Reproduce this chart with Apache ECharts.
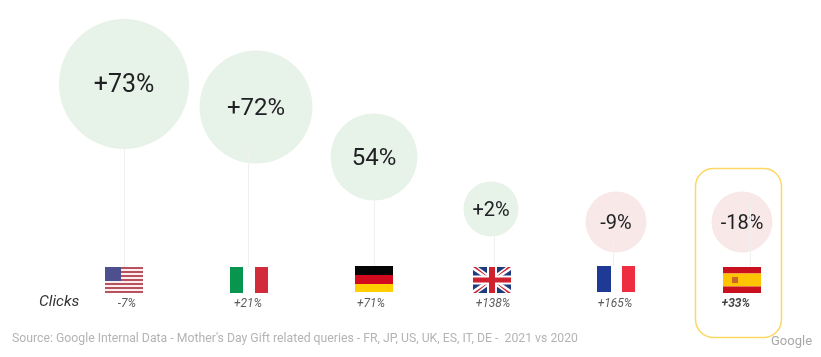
<!DOCTYPE html>
<html>
<head>
<meta charset="utf-8">
<style>
html,body{margin:0;padding:0;background:#fff}
#chart{width:821px;height:357px}
</style>
<script src="https://cdn.jsdelivr.net/npm/echarts@6/dist/echarts.min.js"></script>
</head>
<body>
<div id="chart"></div>
<script>
// values
const countries = ['US', 'IT', 'DE', 'UK', 'FR', 'ES']
const queryLabels = ['+73%', '+72%', '54%', '+2%', '-9%', '-18%']
const clickLabels = ['-7%', '+21%', '+71%', '+138%', '+165%', '+33%']
const bubbleX = [124, 256, 374, 491, 616, 742]
const bubbleY = [84, 107, 157, 209, 222, 222]
const bubbleSize = [130, 113, 87, 55, 61, 61]
const stemX = [124, 248, 374, 494, 613, 750]
const stemTop = [149, 148, 200, 236, 237, 203]
const flagX = [124, 249, 374, 492, 616, 742]
const flagTop = [267, 267, 266, 267, 266, 267]
const clickX = [127, 248, 371, 493, 615, 736]
const clickY = 304

const GREEN = '#e7f2e8', RED = '#f8e8e8'
const FW = 38, FH = 26

function rect(x, y, w, h, fill) {
    return {type: 'rect', shape: {x, y, width: w, height: h}, style: {fill}}
}
function poly(points, fill) {
    return {type: 'polygon', shape: {points}, style: {fill}}
}
// 国旗
function flag(code, x, y) {
    if (code === 'US') {
        let out = [rect(x, y, FW, FH, '#fbeeee')]
        for (let i = 0; i < 7; i++) out.push(rect(x, y + i * FH * 2 / 13, FW, FH / 13, '#b8525f'))
        out.push(rect(x, y, 16, 14, '#4d4f8e'))
        return out
    }
    if (code === 'IT') return [rect(x, y, 13, FH, '#08964f'), rect(x + 25, y, 13, FH, '#d22c3a')]
    if (code === 'DE') return [rect(x, y, FW, 9, '#050505'), rect(x, y + 9, FW, 9, '#d30a1e'), rect(x, y + 18, FW, 8, '#ffcf00')]
    if (code === 'FR') return [rect(x, y, 14, FH, '#1e3a94'), rect(x + 25, y, 13, FH, '#ef2d40')]
    if (code === 'ES') {
        return [
            rect(x, y, FW, 6.5, '#c8101e'), rect(x, y + 6.5, FW, 13, '#ffc400'), rect(x, y + 19.5, FW, 6.5, '#c8101e'),
            rect(x + 9, y + 10, 6, 6, '#c9652a')
        ]
    }
    // UK
    const r = x + FW, b = y + FH
    return [
        rect(x, y, FW, FH, '#1f3a7d'),
        poly([[x, y], [x + 5, y], [r, b - 3], [r, b], [r - 5, b], [x, y + 3]], '#fff'),
        poly([[r, y], [r - 5, y], [x, b - 3], [x, b], [x + 5, b], [r, y + 3]], '#fff'),
        poly([[x, y], [x + 3, y], [x + FW / 2, y + FH / 2]], '#d0202f'),
        poly([[r, b], [r - 3, b], [x + FW / 2, y + FH / 2]], '#d0202f'),
        poly([[r, y], [r - 3, y], [x + FW / 2, y + FH / 2]], '#d0202f'),
        poly([[x, b], [x + 3, b], [x + FW / 2, y + FH / 2]], '#d0202f'),
        rect(x + 14, y, 10, FH, '#fff'), rect(x, y + 8.5, FW, 9, '#fff'),
        rect(x + 16, y, 6, FH, '#d0202f'), rect(x, y + 10.5, FW, 5, '#d0202f')
    ]
}

const option = {
    animation: false,
    backgroundColor: '#fff',
    grid: {left: 0, right: 0, top: 0, bottom: 0},
    xAxis: {type: 'value', min: 0, max: 821, show: false},
    yAxis: {type: 'value', min: 0, max: 357, inverse: true, show: false},
    series: [
        {
            // 气泡
            type: 'scatter',
            z: 2,
            data: countries.map((c, i) => ({
                name: c,
                value: [bubbleX[i], bubbleY[i], bubbleSize[i]],
                symbolSize: bubbleSize[i],
                itemStyle: {color: i < 4 ? GREEN : RED, opacity: 1},
                label: {
                    show: true,
                    position: 'inside',
                    offset: [0, 2],
                    formatter: queryLabels[i],
                    fontFamily: 'Roboto',
                    fontSize: bubbleSize[i] > 80 ? (i === 0 ? 25 : 24) : 20,
                    color: '#202124'
                }
            }))
        },
        {
            // 连接线
            type: 'custom',
            z: 3,
            data: countries.map((c, i) => [stemX[i], stemTop[i], flagTop[i]]),
            renderItem: function (params, api) {
                const a = api.coord([api.value(0), api.value(1)])
                const b = api.coord([api.value(0), api.value(2)])
                return {
                    type: 'line',
                    shape: {x1: a[0] + 0.5, y1: a[1], x2: b[0] + 0.5, y2: b[1]},
                    style: {stroke: '#f0f0f0', lineWidth: 1}
                }
            }
        },
        {
            type: 'custom',
            z: 4,
            data: countries.map((c, i) => [flagX[i], flagTop[i]]),
            renderItem: function (params, api) {
                const p = api.coord([api.value(0), api.value(1)])
                return {type: 'group', children: flag(countries[params.dataIndex], p[0] - FW / 2, p[1])}
            }
        },
        {
            // Clicks 标签
            type: 'scatter',
            z: 4,
            symbolSize: 0,
            data: countries.map((c, i) => ({
                value: [clickX[i], clickY],
                label: {
                    show: true,
                    position: 'inside',
                    formatter: clickLabels[i],
                    fontFamily: 'Roboto',
                    fontStyle: 'italic',
                    fontWeight: i === 5 ? 'bold' : 'normal',
                    fontSize: 12,
                    color: i === 5 ? '#111' : '#333'
                }
            }))
        }
    ],
    graphic: [
        {
            type: 'rect',
            shape: {x: 695.5, y: 168.5, width: 86, height: 169, r: 18},
            style: {fill: 'none', stroke: '#fdd663', lineWidth: 1.5},
            z: 5
        },
        {
            type: 'text', x: 39, y: 294,
            style: {text: 'Clicks', font: 'italic 15.5px Roboto', fill: '#333'}
        },
        {
            type: 'text', x: 12, y: 333,
            style: {
                text: "Source: Google Internal Data - Mother's Day Gift related queries - FR, JP, US, UK, ES, IT, DE -  2021 vs 2020",
                font: '12.25px Roboto',
                fill: '#b4b4b4'
            }
        },
        {
            type: 'text', x: 771, y: 335,
            style: {text: 'Google', font: '13px Roboto', fill: '#a8a8a8'}
        }
    ]
}

let myChart = echarts.init(document.getElementById('chart'))
myChart.setOption(option)
</script>
</body>
</html>
